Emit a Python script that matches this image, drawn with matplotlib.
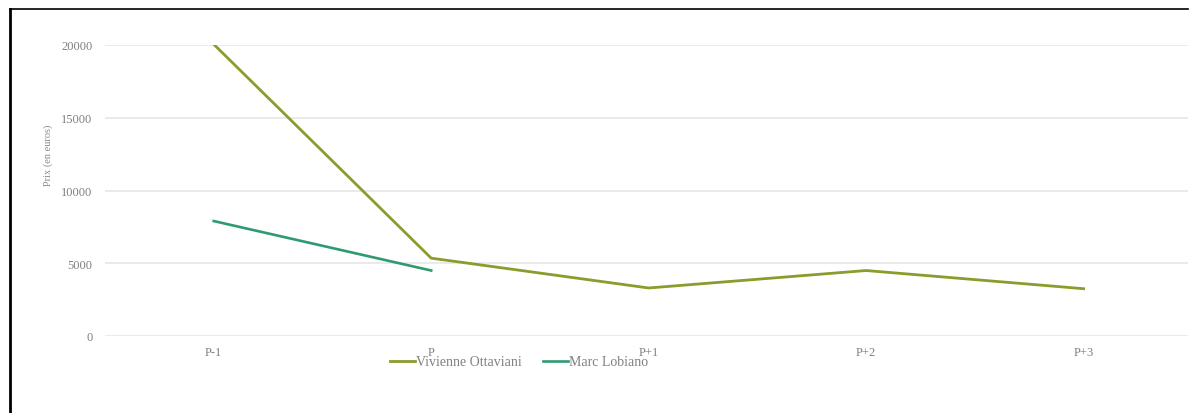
"""Line chart: prix par période pour deux vendeurs."""
import matplotlib
matplotlib.use("Agg")
import matplotlib.pyplot as plt
from matplotlib.lines import Line2D

periods = ["P-1", "P", "P+1", "P+2", "P+3"]
vivienne = [20050, 5350, 3300, 4500, 3250]
marc = [7900, 4500]
y_ticks = [0, 5000, 10000, 15000, 20000]

plt.rcParams["font.family"] = ["Liberation Serif", "DejaVu Serif"]

fig = plt.figure(figsize=(11.92, 4.14), dpi=100)
ax = fig.add_axes([105 / 1192, 1 - 337 / 414, (1188 - 105) / 1192, (337 - 46) / 414 * 1.0])

x = list(range(len(periods)))
ax.plot(x, vivienne, color="#8b9c2c", linewidth=2.0, label="Vivienne Ottaviani", zorder=3)
ax.plot(x[: len(marc)], marc, color="#2f9a6f", linewidth=1.9, label="Marc Lobiano", zorder=3)

ax.set_ylim(0, 20000)
ax.set_xlim(-0.5, 4.48)
ax.set_yticks(y_ticks)
ax.set_yticklabels([str(v) for v in y_ticks])
ax.set_xticks(x)
ax.set_xticklabels(periods)
ax.tick_params(axis="both", length=0, labelsize=9, colors="#808080")
ax.tick_params(axis="y", pad=9)
ax.tick_params(axis="x", pad=7)
ax.grid(axis="y", color="#e6e6e6", linewidth=1.2)
ax.set_axisbelow(True)
for side in ax.spines.values():
    side.set_visible(False)
ax.set_ylabel("Prix (en euros)", fontsize=7.5, color="#8a8a8a")
ax.yaxis.set_label_coords(-0.048, 0.625)

handles = [
    Line2D([], [], color="#8b9c2c", linewidth=2.0),
    Line2D([], [], color="#2f9a6f", linewidth=1.9),
]
fig.legend(
    handles,
    ["Vivienne Ottaviani", "Marc Lobiano"],
    loc="center",
    bbox_to_anchor=(519 / 1192, 1 - 363 / 414),
    ncol=2,
    frameon=False,
    fontsize=10,
    labelcolor="#808080",
    handlelength=1.8,
    handletextpad=0.1,
    columnspacing=1.5,
)

# border of the original screenshot (left and top edges only)
fig.add_artist(Line2D([10 / 1192, 10 / 1192], [0, 1 - 10 / 414], color="black", linewidth=2, transform=fig.transFigure))
fig.add_artist(Line2D([10 / 1192, 1188 / 1192], [1 - 10 / 414, 1 - 10 / 414], color="black", linewidth=1.2, transform=fig.transFigure))

fig.savefig("out.png", dpi=100)
